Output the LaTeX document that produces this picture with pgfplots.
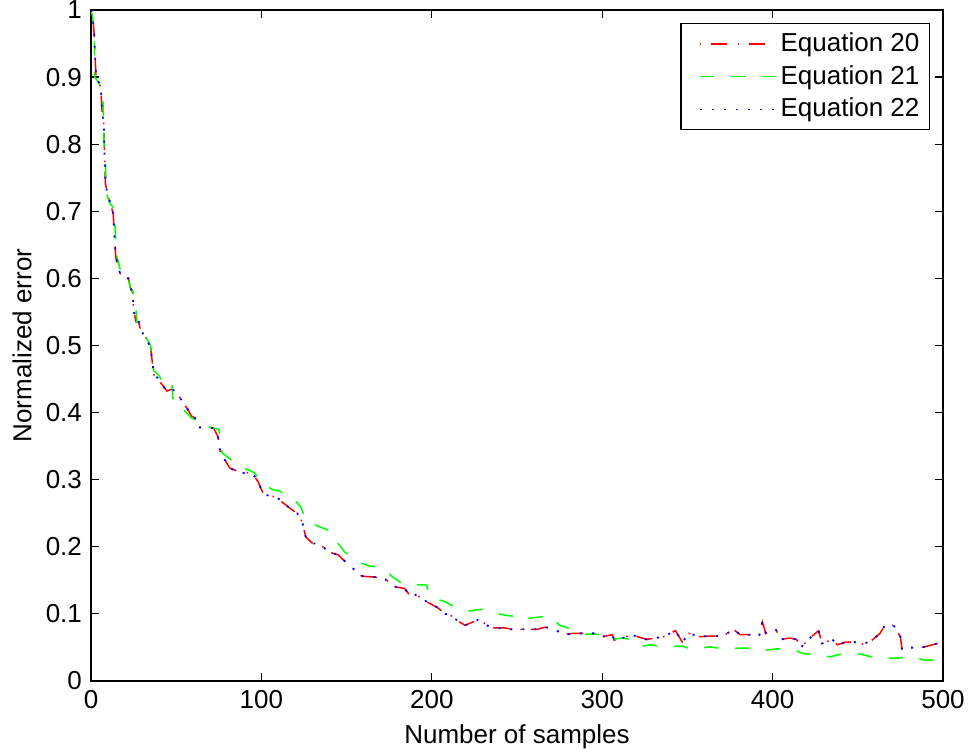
\documentclass[border=0pt]{standalone}
\usepackage{pgfplots}
\pgfplotsset{compat=1.18}
\usepackage{pgfplotstable}
\usepackage{fontspec}
\setmainfont{Liberation Sans}

\pgfplotstableread{
x y
0 1.0
1 0.99
2 0.96
2.5 0.925
3 0.90
5 0.89
6 0.874
6.5 0.848
7.5 0.83
8 0.78
8.5 0.74
10 0.724
13 0.697
14 0.654
14.5 0.632
17 0.608
19 0.60
22 0.60
23 0.587
24.5 0.578
25 0.553
26.5 0.535
28 0.535
29 0.523
32 0.513
35 0.496
36 0.475
37 0.456
39 0.452
41 0.444
44.6 0.432
47.5 0.435
50 0.431
55 0.411
56 0.408
59 0.395
62 0.39
63 0.378
68 0.378
72 0.377
74.5 0.364
76 0.34
81.6 0.317
88.6 0.31
93 0.31
96 0.305
98 0.297
101 0.28
103 0.277
109 0.274
112 0.267
118 0.255
121 0.25
124 0.237
126 0.215
130 0.205
133 0.205
136 0.2
140 0.192
145 0.188
150 0.176
155 0.165
157 0.158
160 0.156
166 0.155
172 0.153
177 0.143
179 0.14
184 0.138
187 0.128
189 0.13
194 0.124
197 0.118
203 0.11
208 0.10
211 0.098
215 0.09
219.5 0.083
227 0.091
230 0.088
233 0.082
237 0.079
243 0.079
247 0.077
253 0.077
262 0.077
266 0.080
271 0.079
277 0.069
283 0.071
297 0.071
300 0.066
306 0.069
307 0.061
312 0.064
317 0.069
326 0.062
331 0.064
336 0.066
343 0.075
347 0.058
351 0.071
357 0.066
363 0.067
371 0.067
377 0.077
381 0.069
387 0.069
392 0.066
394 0.088
396 0.071
402 0.076
405 0.062
410 0.064
414 0.062
417 0.051
421 0.062
427 0.075
429 0.056
435 0.062
438 0.054
443 0.058
448 0.058
453 0.055
458 0.06
463 0.071
466 0.083
471 0.083
475 0.066
476 0.046
480 0.05
486 0.049
494 0.054
498 0.057
500 0.058
}\eqA

\pgfplotstableread{
x y
0 1.0
1 0.99
2 0.95
2.2 0.90
5 0.89
6 0.874
7 0.866
7.3 0.843
7.5 0.816
8 0.794
8.5 0.77
9 0.727
11 0.712
13 0.706
14 0.68
14.5 0.657
15 0.635
17 0.615
19 0.60
22 0.60
23 0.587
25 0.578
26.4 0.553
27 0.535
28 0.535
29 0.523
32 0.513
35 0.50
36.5 0.468
37 0.462
40 0.455
41 0.45
44 0.44
47.5 0.444
48 0.421
51 0.42
54 0.405
59 0.392
62 0.388
64 0.381
72 0.377
75 0.375
77 0.34
82 0.33
86 0.32
93 0.314
96 0.31
99 0.30
103 0.29
107 0.285
111 0.283
116 0.271
120 0.268
123 0.26
126 0.241
130 0.235
133 0.231
139 0.225
142 0.22
145 0.205
149 0.192
153 0.185
157 0.177
164 0.171
169 0.17
172 0.168
177 0.155
180 0.15
183 0.144
197 0.143
198 0.131
203 0.122
208 0.118
212 0.112
215 0.109
221 0.104
226 0.106
231 0.107
238 0.101
243 0.098
247 0.097
250 0.091
256 0.093
262 0.095
270 0.097
272 0.090
275 0.083
280 0.079
284 0.075
289 0.07
297 0.07
300 0.066
303 0.061
312 0.064
316 0.062
318 0.058
322 0.051
328 0.054
333 0.052
339 0.051
344 0.052
347 0.052
354 0.046
358 0.049
363 0.051
371 0.048
375 0.048
380 0.049
388 0.049
392 0.047
396 0.046
403 0.048
411 0.048
418 0.041
422 0.040
426 0.039
434 0.036
438 0.039
443 0.041
450 0.041
458 0.036
465 0.034
474 0.034
478 0.036
482 0.037
489 0.031
494 0.031
496 0.024
498 0.025
}\eqB

\begin{document}
\fontsize{13bp}{15bp}\selectfont
\begin{tikzpicture}
\useasboundingbox (0,0) rectangle (484.5bp,377.5bp);
\begin{axis}[
  at={(45.5bp,37bp)}, anchor=south west,
  scale only axis, width=426bp, height=335.5bp,
  xmin=0, xmax=500, ymin=0, ymax=1,
  xtick={0,100,200,300,400,500},
  ytick={0,0.1,0.2,0.3,0.4,0.5,0.6,0.7,0.8,0.9,1},
  yticklabels={0,0.1,0.2,0.3,0.4,0.5,0.6,0.7,0.8,0.9,1},
  xticklabels={0,100,200,300,400,500},
  tick align=inside, major tick length=4bp,
  axis line style={line width=0.6bp},
  every tick/.style={black, line width=0.6bp},
  tick label style={font=\fontsize{13bp}{15bp}\selectfont},
  label style={font=\fontsize{13bp}{15bp}\selectfont},
  xlabel={Number of samples},
  ylabel={Normalized error},
  xlabel style={at={(axis description cs:0.5,-0.0835)}, anchor=center},
  ylabel style={at={(axis description cs:-0.081,0.5)}, anchor=center, rotate=0},
  legend cell align=left,
  legend style={at={(rel axis cs:0.9847,0.9806)}, anchor=north east,
    draw=black, line width=0.6bp, font=\fontsize{13bp}{15bp}\selectfont,
    row sep=0bp, inner xsep=3bp, inner ysep=2bp,
    nodes={inner ysep=2.5bp}},
  legend image code/.code={\path (0bp,0bp); \draw[#1, line width=0.75bp] (6bp,0bp) -- (44bp,0bp);},
]
\addplot[red, line width=0.75bp, dash pattern=on 0.8bp off 4.6bp on 8.3bp off 5.3bp] table {\eqA};
\addlegendentry{Equation 20}
\addplot[green, line width=0.75bp, dash pattern=on 7.3bp off 8.3bp] table {\eqB};
\addlegendentry{Equation 21}
\addplot[blue, line width=0.9bp, dash pattern=on 1bp off 5bp] table {\eqA};
\addlegendentry{Equation 22}
\end{axis}
\end{tikzpicture}
\end{document}
